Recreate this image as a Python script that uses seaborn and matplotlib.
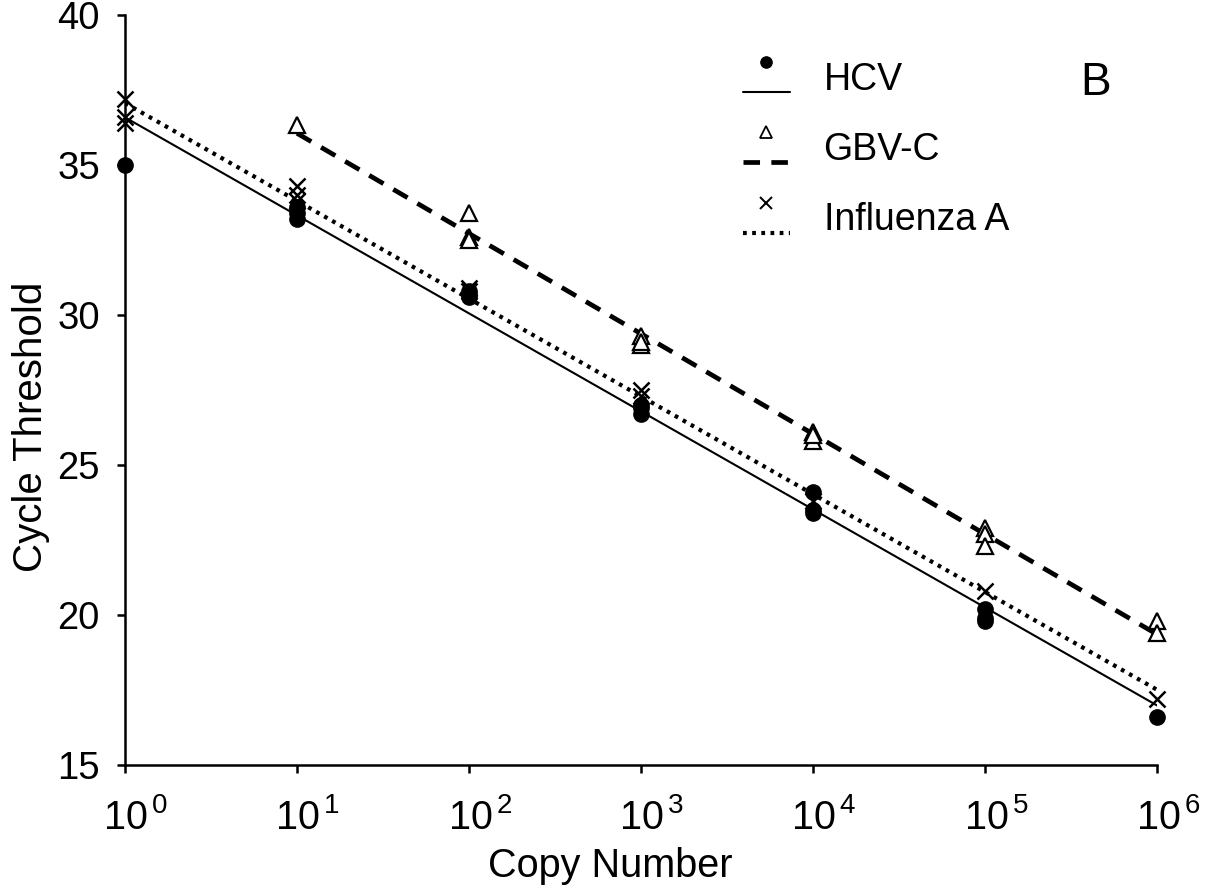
import numpy as np
import pandas as pd
import matplotlib
matplotlib.use("Agg")
import matplotlib.pyplot as plt
import matplotlib.transforms as mtransforms
import seaborn as sns
from matplotlib.lines import Line2D
from matplotlib.legend_handler import HandlerBase

# values
hcv_copies = [1, 10, 10, 10, 100, 100, 100, 1e3, 1e3, 1e3, 1e4, 1e4, 1e4, 1e5, 1e5, 1e5, 1e6]
hcv_ct = [35.0, 33.2, 33.4, 33.6, 30.6, 30.7, 30.8, 26.7, 26.9, 27.0, 24.1, 23.4, 23.5, 20.2, 19.9, 19.8, 16.6]

gbv_copies = [10, 100, 100, 100, 1e3, 1e3, 1e3, 1e4, 1e4, 1e4, 1e5, 1e5, 1e5, 1e6, 1e6]
gbv_ct = [36.35, 33.4, 32.6, 32.5, 29.3, 29.0, 29.1, 26.1, 25.8, 26.0, 22.9, 22.7, 22.3, 19.8, 19.4]

flu_copies = [1, 1, 1, 10, 10, 10, 100, 100, 1e3, 1e3, 1e4, 1e5, 1e6]
flu_ct = [37.2, 36.6, 36.4, 34.3, 34.0, 33.8, 30.9, 30.8, 27.5, 27.3, 23.8, 20.8, 17.2]

labels = ["HCV", "GBV-C", "Influenza A"]
xtick_pos = [1, 10, 100, 1e3, 1e4, 1e5, 1e6]
xtick_labels = [r"$\mathregular{10^{\,%d}}$" % i for i in range(7)]
ytick_pos = [15, 20, 25, 30, 35, 40]

df = pd.concat([
    pd.DataFrame({"copies": hcv_copies, "ct": hcv_ct, "assay": labels[0]}),
    pd.DataFrame({"copies": gbv_copies, "ct": gbv_ct, "assay": labels[1]}),
    pd.DataFrame({"copies": flu_copies, "ct": flu_ct, "assay": labels[2]}),
])

sns.set_style("ticks")
plt.rcParams["font.family"] = ["Liberation Sans", "DejaVu Sans"]
plt.rcParams["mathtext.fontset"] = "custom"
plt.rcParams["mathtext.rm"] = "Liberation Sans"
plt.rcParams["text.color"] = "black"
plt.rcParams["axes.labelcolor"] = "black"

# marker / line style per assay
styles = {
    "HCV": dict(marker="o", ms=11, mfc="black", mec="black", mew=1, dashes=None, lw=1.5),
    "GBV-C": dict(marker="^", ms=12, mfc="white", mec="black", mew=1.6, dashes=(3.5, 2.4), lw=3.4),
    "Influenza A": dict(marker="x", ms=11, mfc="black", mec="black", mew=1.8, dashes=(0.9, 1.3), lw=3.0),
}


class MarkerAboveLine(HandlerBase):
    # excel-style legend entry: symbol sitting above the line sample
    def create_artists(self, legend, orig_handle, xdescent, ydescent, width, height, fontsize, trans):
        mid = height / 2 - ydescent
        seg = Line2D([-xdescent, width - xdescent], [mid - 0.42 * fontsize] * 2)
        seg.update_from(orig_handle)
        seg.set_marker("None")
        mark = Line2D([width / 2 - xdescent], [mid + 0.38 * fontsize])
        mark.update_from(orig_handle)
        mark.set_linestyle("None")
        seg.set_transform(trans)
        mark.set_transform(trans)
        return [seg, mark]


fig, ax = plt.subplots(figsize=(12.13, 8.92), dpi=100)
fig.subplots_adjust(left=0.103, right=0.954, bottom=0.1424, top=0.983)

handles = []
for name in labels:
    st = styles[name]
    sub = df[df["assay"] == name]
    lkw = dict(color="black", lw=st["lw"])
    if st["dashes"]:
        lkw["dashes"] = st["dashes"]
    sns.regplot(data=sub, x="copies", y="ct", logx=True, ci=None, scatter=False, ax=ax,
                line_kws=lkw)
    ax.plot(sub["copies"], sub["ct"], ls="none", marker=st["marker"], ms=st["ms"],
            mfc=st["mfc"], mec=st["mec"], mew=st["mew"], zorder=3, clip_on=False)
    h = Line2D([], [], color="black", lw=st["lw"], marker=st["marker"], ms=st["ms"] * 0.75,
               mfc=st["mfc"], mec=st["mec"], mew=st["mew"] * 0.8)
    if st["dashes"]:
        h.set_dashes(st["dashes"])
    handles.append(h)

ax.set_xscale("log")
ax.set_xlim(1, 1e6)
ax.set_ylim(15, 40)
ax.set_xticks(xtick_pos)
ax.set_xticklabels(xtick_labels)
ax.minorticks_off()
ax.set_yticks(ytick_pos)
ax.tick_params(axis="both", labelsize=27.5, width=1.8, length=6, color="black", labelcolor="black")
ax.tick_params(axis="x", labelsize=28.5, pad=18)
ax.tick_params(axis="y", pad=12)

# the "10" sits on the tick, exponent hangs to the right
shift = mtransforms.ScaledTranslation(0.11, 0, fig.dpi_scale_trans)
for lab in ax.get_xticklabels():
    lab.set_transform(lab.get_transform() + shift)

ax.set_xlabel("Copy Number", fontsize=28.5)
ax.set_ylabel("Cycle Threshold", fontsize=29)
ax.xaxis.set_label_coords(0.47, -0.109)
ax.yaxis.set_label_coords(-0.073, 0.451)

sns.despine(ax=ax)
for side in ["left", "bottom"]:
    ax.spines[side].set_linewidth(1.8)
    ax.spines[side].set_color("black")

ax.legend(handles, labels, handler_map={Line2D: MarkerAboveLine()}, loc="upper left",
          bbox_to_anchor=(0.566, 0.983), frameon=False, fontsize=27, handlelength=1.25,
          handletextpad=0.9, labelspacing=0.91)

ax.text(0.94, 0.909, "B", transform=ax.transAxes, fontsize=33, ha="center", va="center")

fig.savefig("out.png", dpi=100)
